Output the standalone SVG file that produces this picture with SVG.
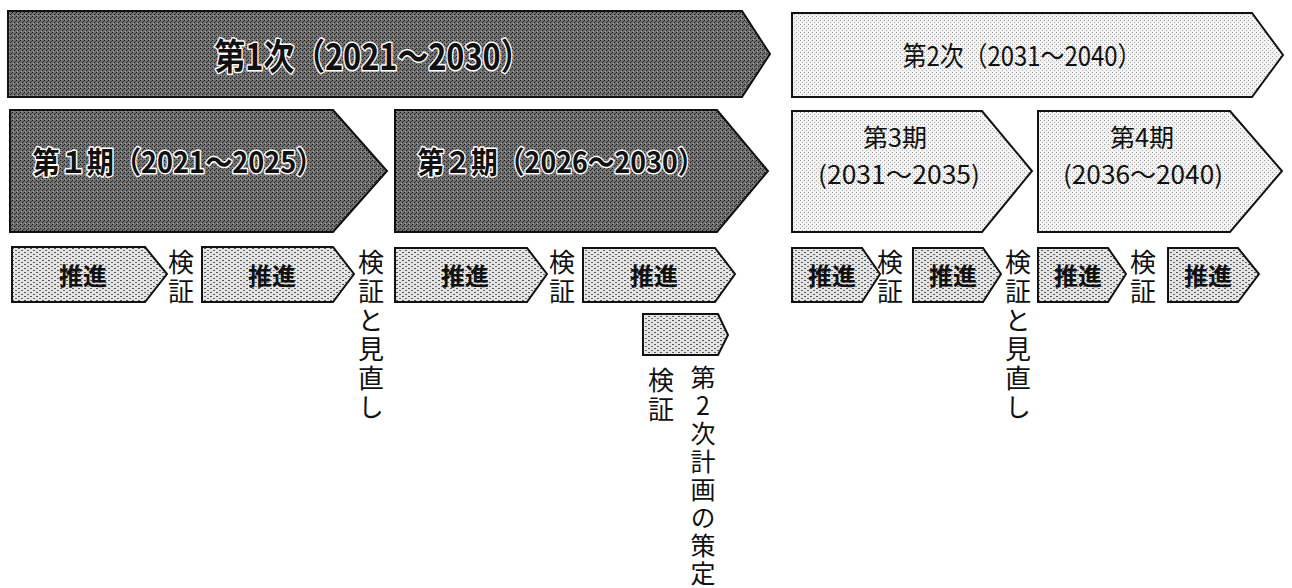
<svg xmlns="http://www.w3.org/2000/svg" width="1292" height="588" viewBox="0 0 1292 588">
<defs>
<pattern id="pDark" width="4" height="4" patternUnits="userSpaceOnUse">
<rect width="4" height="4" fill="#707070"/>
<rect x="0" y="0" width="1" height="1" fill="#1a1a1a"/>
<rect x="2" y="2" width="1" height="1" fill="#1a1a1a"/>
<rect x="1" y="3" width="1" height="1" fill="#a0a0a0"/>
<rect x="3" y="1" width="1" height="1" fill="#3a3a3a"/>
</pattern>
<pattern id="pLight" width="4" height="4" patternUnits="userSpaceOnUse">
<rect width="4" height="4" fill="#f3f3f3"/>
<rect x="0" y="0" width="1" height="1" fill="#9a9a9a"/>
<rect x="2" y="2" width="1" height="1" fill="#b5b5b5"/>
</pattern>
<pattern id="pMid" width="6" height="4" patternUnits="userSpaceOnUse">
<rect width="6" height="4" fill="#e4e4e4"/>
<rect x="0" y="0" width="2" height="1" fill="#555"/>
<rect x="3" y="2" width="2" height="1" fill="#666"/>
</pattern>
<style>
.dark{fill:url(#pDark);stroke:#111;stroke-width:2}
.light{fill:url(#pLight);stroke:#111;stroke-width:2}
.mid{fill:url(#pMid);stroke:#111;stroke-width:2}
.t{font-family:"Noto Sans CJK JP","Noto Sans",sans-serif;fill:#111;text-anchor:middle;dominant-baseline:central}
.halo{font-weight:bold;stroke:#fff;stroke-width:3;paint-order:stroke;stroke-linejoin:round}
.big{font-size:36px}
.mid30{font-size:30px}
.reg{font-size:27px}
.reg2{font-size:25px}
.sm{font-size:24px;font-weight:bold}
.v{font-family:"Noto Sans CJK JP","Noto Sans",sans-serif;fill:#111;font-size:26px;writing-mode:vertical-rl;text-orientation:upright;letter-spacing:3px;text-anchor:start}
</style>
</defs>

<g id="plan1">
<polygon class="dark" points="8,11 742,11 770,54 742,97 8,97"/>
<text class="t halo big" x="373" y="54" textLength="317" lengthAdjust="spacingAndGlyphs">第1次（2021～2030）</text>
</g>
<g id="plan2">
<polygon class="light" points="792,13 1252,13 1283,55 1252,97 792,97"/>
<text class="t reg" x="1022" y="54" textLength="239" lengthAdjust="spacingAndGlyphs">第2次（2031～2040）</text>
</g>

<g id="term1">
<polygon class="dark" points="10,110 333,110 387,171 333,232 10,232"/>
<text class="t halo mid30" x="178" y="160" textLength="291" lengthAdjust="spacingAndGlyphs">第１期（2021～2025）</text>
</g>
<g id="term2">
<polygon class="dark" points="395,110 717,110 768,171 717,232 395,232"/>
<text class="t halo mid30" x="561" y="160" textLength="287" lengthAdjust="spacingAndGlyphs">第２期（2026～2030）</text>
</g>
<g id="term3">
<polygon class="light" points="792,111 982,111 1032,171 982,232 792,232"/>
<text class="t reg2"><tspan x="895" y="136">第3期</tspan><tspan x="899" y="173" textLength="162" lengthAdjust="spacingAndGlyphs">(2031～2035)</tspan></text>
</g>
<g id="term4">
<polygon class="light" points="1038,111 1230,111 1282,171 1230,232 1038,232"/>
<text class="t reg2"><tspan x="1142" y="136">第4期</tspan><tspan x="1143" y="173" textLength="160" lengthAdjust="spacingAndGlyphs">(2036～2040)</tspan></text>
</g>

<g id="push1">
<polygon class="mid" points="12,247 145,247 167,274 145,302 12,302"/>
<text class="t sm" x="83" y="274">推進</text>
</g>
<g id="check1">
<text class="v" x="181" y="249">検証</text>
</g>
<g id="push2">
<polygon class="mid" points="202,247 333,247 354,274 333,302 202,302"/>
<text class="t sm" x="272" y="274">推進</text>
</g>
<g id="review1">
<text class="v" x="371" y="249">検証と見直し</text>
</g>
<g id="push3">
<polygon class="mid" points="395,248 527,248 547,274 527,302 395,302"/>
<text class="t sm" x="465" y="274">推進</text>
</g>
<g id="check2">
<text class="v" x="562" y="249">検証</text>
</g>
<g id="push4">
<polygon class="mid" points="583,248 715,248 735,274 715,302 583,302"/>
<text class="t sm" x="654" y="274">推進</text>
</g>
<g id="push4b">
<polygon class="mid" points="643,314 718,314 728,335 718,355 643,355"/>
</g>
<g id="check3">
<text class="v" x="661" y="367">検証</text>
</g>
<g id="plan2draft">
<text class="v" x="703" y="365" style="font-size:25px">第2次計画の策定</text>
</g>

<g id="push5">
<polygon class="mid" points="792,248 862,248 880,274 862,302 792,302"/>
<text class="t sm" x="832" y="274">推進</text>
</g>
<g id="check4">
<text class="v" x="890" y="249">検証</text>
</g>
<g id="push6">
<polygon class="mid" points="913,248 983,248 1001,274 983,302 913,302"/>
<text class="t sm" x="953" y="274">推進</text>
</g>
<g id="review2">
<text class="v" x="1018" y="249">検証と見直し</text>
</g>
<g id="push7">
<polygon class="mid" points="1038,248 1108,248 1126,274 1108,302 1038,302"/>
<text class="t sm" x="1078" y="274">推進</text>
</g>
<g id="check5">
<text class="v" x="1143" y="249">検証</text>
</g>
<g id="push8">
<polygon class="mid" points="1168,248 1238,248 1259,274 1238,302 1168,302"/>
<text class="t sm" x="1208" y="274">推進</text>
</g>
<g id="connectors"></g>
</svg>
